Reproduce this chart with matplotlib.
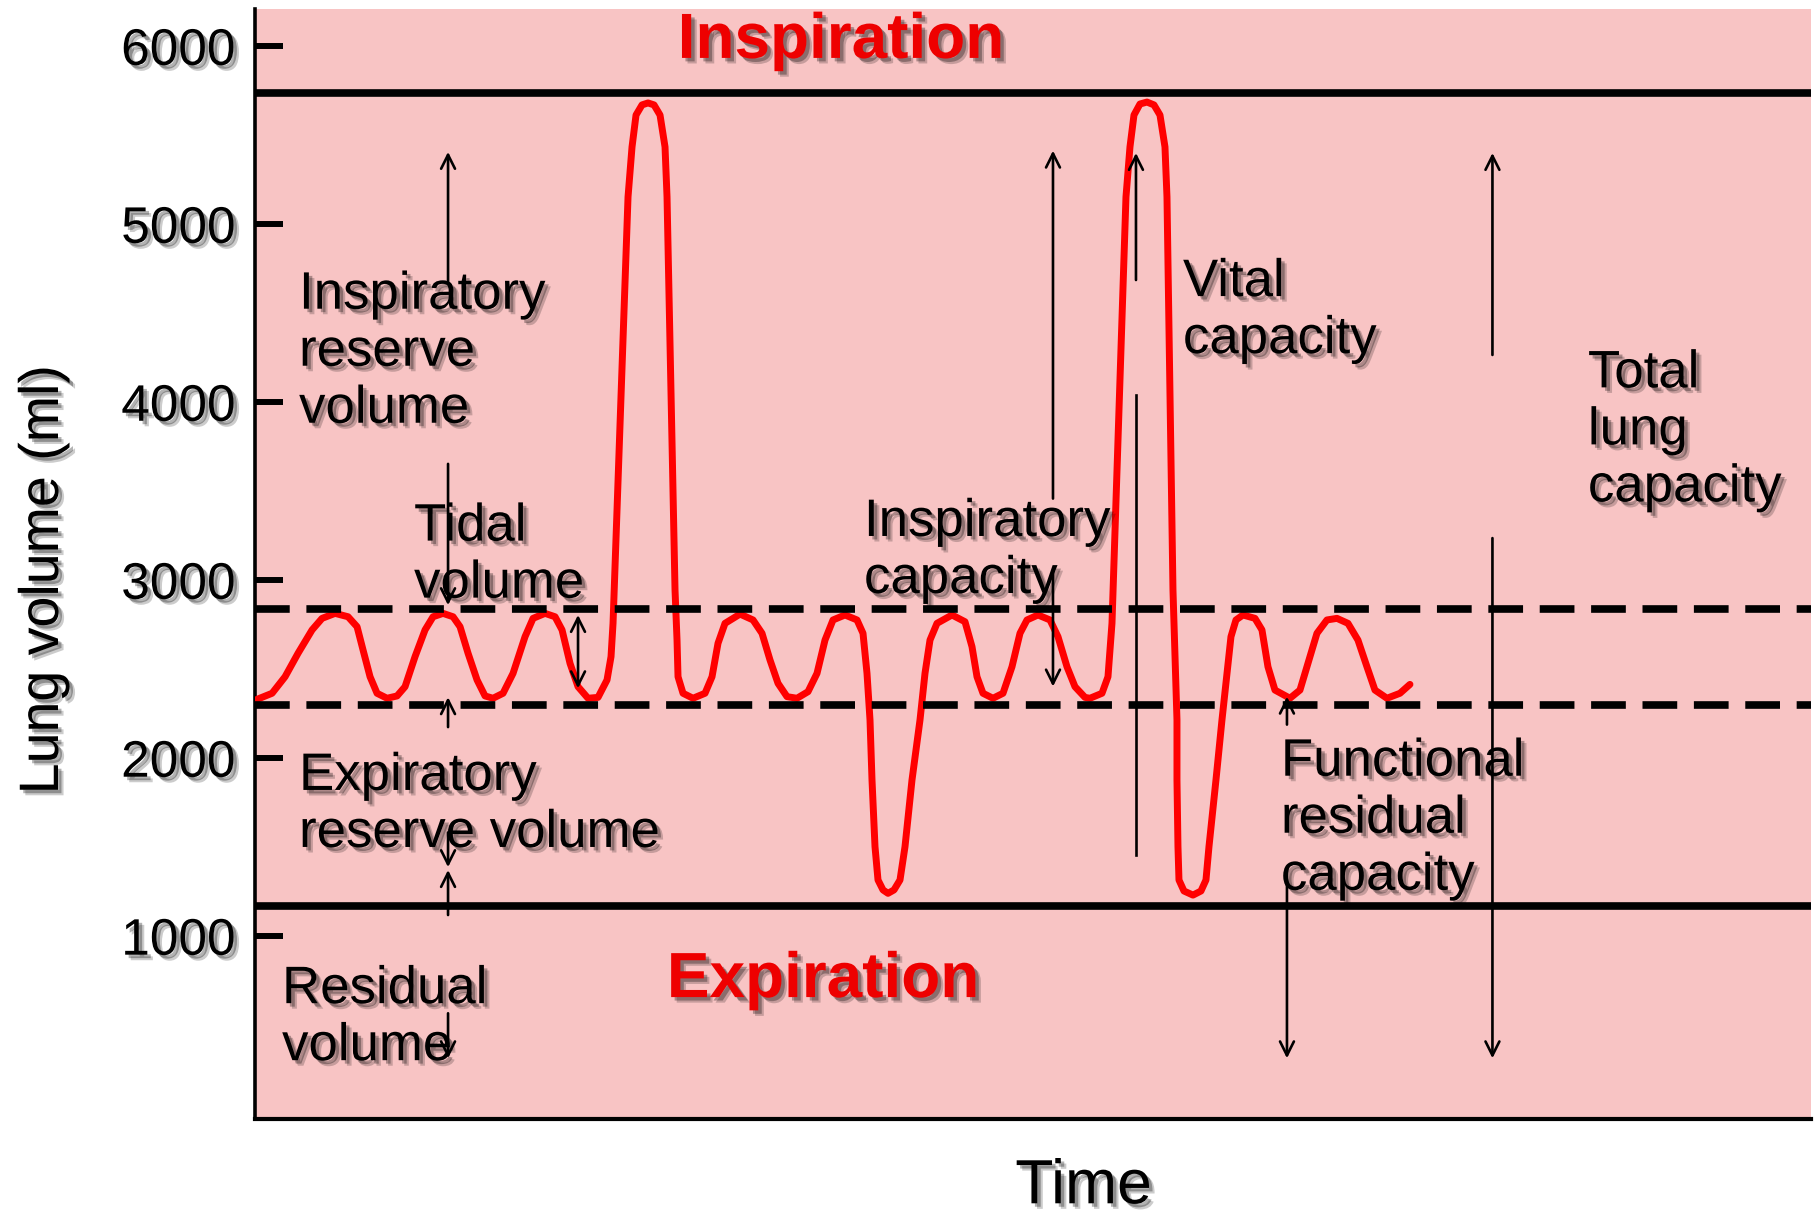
import matplotlib.pyplot as plt
import matplotlib.patheffects as pe

plt.rcParams['font.family'] = ['Liberation Sans', 'DejaVu Sans']
plt.rcParams['lines.scale_dashes'] = False

# Spirogram trace (time in arbitrary s, volume in ml)
time_s = [0.2, 1.7, 3.0, 4.3, 5.7, 6.7, 8.0, 9.3, 10.2, 10.8, 11.5, 12.2, 13.2,
          14.2, 15.0, 16.0, 17.0, 17.8, 18.8, 19.8, 20.5, 21.3, 22.2, 23.0, 23.8,
          24.8, 25.8, 27.0, 27.8, 29.0, 30.0, 30.7, 31.5, 32.3, 33.3, 34.3, 35.2,
          35.6, 35.8, 37.3, 37.7, 38.1, 38.7, 39.3, 39.9, 40.5, 41.0, 41.2, 42.0,
          42.2, 42.3, 42.8, 43.8, 45.0, 45.7, 46.3, 47.0, 48.5, 49.8, 50.7, 51.5,
          52.3, 53.2, 54.2, 55.3, 56.2, 57.0, 57.8, 59.0, 60.2, 60.8, 61.2, 61.5,
          61.7, 62.0, 62.3, 62.8, 63.3, 63.9, 64.5, 65.0, 65.7, 66.5, 67.0, 67.5,
          68.2, 69.7, 71.0, 71.7, 72.2, 72.8, 73.8, 74.8, 75.7, 76.5, 77.2, 78.3,
          79.5, 80.3, 81.2, 82.0, 83.0, 83.5, 84.7, 85.3, 85.7, 87.1, 87.5, 87.9,
          88.5, 89.2, 89.9, 90.5, 91.0, 91.2, 91.8, 92.2, 92.2, 92.3, 92.4, 92.9,
          93.8, 94.6, 95.1, 95.4, 96.1, 96.7, 97.2, 97.6, 98.1, 98.8, 100.0, 100.7,
          101.3, 102.0, 103.5, 104.5, 105.3, 106.2, 107.2, 108.2, 109.3, 110.3,
          111.2, 112.0, 113.2, 114.5, 115.5]
volume_ml = [2328, 2362, 2455, 2587, 2718, 2783, 2811, 2792, 2736, 2605, 2455, 2362, 2334,
             2347, 2399, 2568, 2718, 2792, 2811, 2792, 2736, 2587, 2437, 2347, 2334,
             2362, 2474, 2680, 2783, 2811, 2792, 2718, 2530, 2399, 2334, 2339, 2437,
             2568, 2755, 5151, 5432, 5611, 5668, 5679, 5668, 5611, 5432, 5151, 2942,
             2661, 2455, 2362, 2334, 2362, 2455, 2643, 2755, 2807, 2774, 2699, 2549,
             2418, 2343, 2334, 2371, 2474, 2661, 2774, 2802, 2774, 2699, 2474, 2212,
             1875, 1500, 1313, 1257, 1238, 1257, 1313, 1500, 1875, 2212, 2474, 2661,
             2755, 2802, 2764, 2624, 2455, 2362, 2334, 2362, 2511, 2699, 2774, 2802,
             2774, 2680, 2511, 2399, 2339, 2334, 2362, 2455, 2755, 5151, 5432, 5611,
             5673, 5684, 5668, 5611, 5432, 5151, 2942, 2212, 1875, 1500, 1313, 1251,
             1228, 1251, 1313, 1500, 1875, 2212, 2474, 2680, 2774, 2802, 2783, 2718,
             2511, 2380, 2334, 2380, 2530, 2699, 2774, 2783, 2755, 2661,
             2511, 2380, 2334, 2362, 2412]

# reference levels (ml)
tlc_level = 5736
tidal_top = 2835
tidal_bottom = 2296
rv_level = 1169

ytick_values = [1000, 2000, 3000, 4000, 5000, 6000]

# arrows: x, tail volume, tip volume, style
arrows = [
    (19.3, 4675, 5404, '->'),
    (19.3, 3651, 2857, '->'),
    (19.3, 2172, 2340, '->'),
    (19.3, 1580, 1385, '->'),
    (19.3, 1116, 1369, '->'),
    (19.3, 564, 311, '->'),
    (32.3, 2802, 2390, '<->'),
    (79.8, 3456, 5411, '->'),
    (79.8, 3050, 2400, '->'),
    (88.1, 4684, 5398, '->'),
    (88.1, 4038, 1453, '-'),
    (103.2, 2186, 2343, '->'),
    (103.2, 1300, 311, '->'),
    (123.75, 4263, 5398, '->'),
    (123.75, 3234, 311, '->'),
]

# labels: text, x, top of first line
labels = [
    ('Inspiratory\nreserve\nvolume', 4.4, 4742),
    ('Tidal\nvolume', 15.9, 3439),
    ('Expiratory\nreserve volume', 4.4, 2038),
    ('Residual\nvolume', 2.7, 840),
    ('Inspiratory\ncapacity', 60.9, 3465),
    ('Vital\ncapacity', 92.8, 4813),
    ('Total\nlung\ncapacity', 133.3, 4300),
    ('Functional\nresidual\ncapacity', 102.6, 2118),
]

shadow = [pe.SimplePatchShadow(offset=(4, -4), shadow_rgbFace='k', alpha=0.2),
          pe.SimplePatchShadow(offset=(2.5, -2.5), shadow_rgbFace='k', alpha=0.3),
          pe.Normal()]

fig = plt.figure(figsize=(18.18, 12.13), dpi=100)
ax = fig.add_axes([0.1403, 0.0775, 0.8558, 0.9151])
ax.set_facecolor('#f8c4c4')
ax.set_xlim(0, 155.6)
ax.set_ylim(-30, 6207)

# level lines
ax.axhline(tlc_level, color='black', lw=5.5, zorder=4)
ax.axhline(rv_level, color='black', lw=5.5, zorder=4)
for lvl in [tidal_top, tidal_bottom]:
    ax.axhline(lvl, color='black', lw=5.5, dashes=[25, 12], zorder=4)

# the trace
ax.plot(time_s, volume_ml, color='#ff0000', lw=5.0, solid_joinstyle='round',
        solid_capstyle='round', zorder=3)

# labels
for txt, x, y in labels:
    ax.text(x, y, txt, fontsize=38, ha='left', va='top', color='black',
            linespacing=1.18, path_effects=shadow, zorder=5)

ax.text(58.6, 5932, 'Inspiration', fontsize=46, fontweight='bold', color='#ee0000',
        ha='center', va='baseline', path_effects=shadow, zorder=5)
ax.text(56.8, 655, 'Expiration', fontsize=46, fontweight='bold', color='#ee0000',
        ha='center', va='baseline', path_effects=shadow, zorder=5)

# arrows
for x, y0, y1, style in arrows:
    if style == '-':
        ax.plot([x, x], [y0, y1], color='black', lw=1.9, zorder=6)
    else:
        ax.annotate('', xy=(x, y1), xytext=(x, y0),
                    arrowprops=dict(arrowstyle=style + ',head_length=0.5,head_width=0.25',
                                    color='black', lw=1.9, shrinkA=0, shrinkB=0,
                                    mutation_scale=20), zorder=6)

# axes styling
for side in ['top', 'right']:
    ax.spines[side].set_visible(False)
ax.spines['left'].set_linewidth(2.6)
ax.spines['bottom'].set_linewidth(3.0)
ax.set_xticks([])
ax.set_yticks(ytick_values)
ax.set_yticklabels([str(v) for v in ytick_values])
ax.tick_params(axis='y', direction='in', length=20, width=4.3, pad=14, labelsize=37)
for lbl in ax.get_yticklabels():
    lbl.set_path_effects(shadow)

fig.text(0.0242, 0.522, 'Lung volume (ml)', rotation=90, fontsize=40,
         ha='center', va='center', path_effects=shadow)
fig.text(0.596, 0.008, 'Time', fontsize=45, ha='center', va='baseline',
         path_effects=shadow)

fig.savefig('out.png', dpi=100)
